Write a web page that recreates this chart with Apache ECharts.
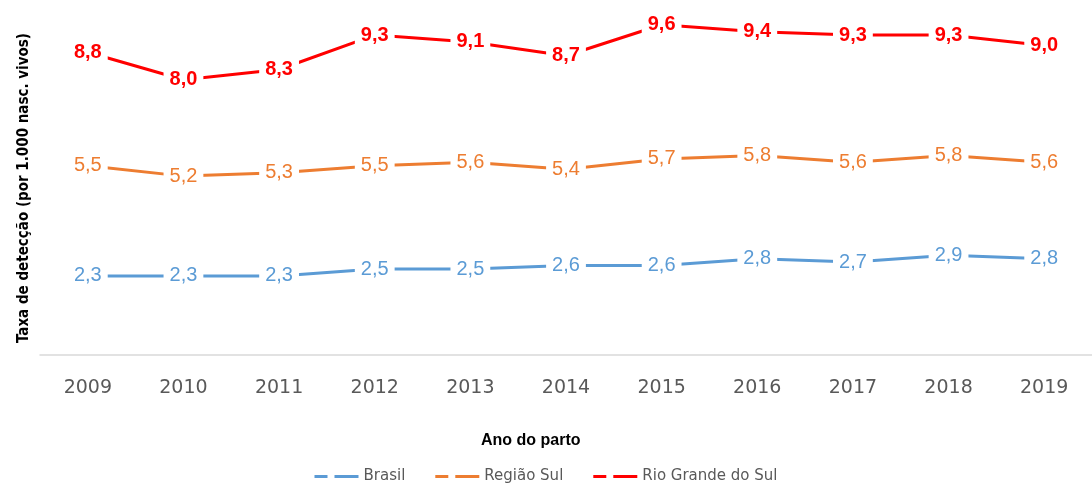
<!DOCTYPE html>
<html>
<head>
<meta charset="utf-8">
<script src="https://cdn.jsdelivr.net/npm/echarts@6/dist/echarts.min.js"></script>
<style>
  html, body { margin: 0; padding: 0; background: #fff; }
  #chart { width: 1092px; height: 483px; }
</style>
</head>
<body>
<div id="chart"></div>
<script>
// anos e taxas por 1.000 nascidos vivos
var anos = ['2009', '2010', '2011', '2012', '2013', '2014', '2015', '2016', '2017', '2018', '2019'];
var brasil = [2.3, 2.3, 2.3, 2.5, 2.5, 2.6, 2.6, 2.8, 2.7, 2.9, 2.8];
var regiaoSul = [5.5, 5.2, 5.3, 5.5, 5.6, 5.4, 5.7, 5.8, 5.6, 5.8, 5.6];
var rioGrande = [8.8, 8.0, 8.3, 9.3, 9.1, 8.7, 9.6, 9.4, 9.3, 9.3, 9.0];

var dashIcon = 'path://M0,0h13v3h-13z M20,0h24v3h-24z';

function serie(nome, dados, cor, peso) {
	return {
		name: nome,
		type: 'line',
		data: dados,
		symbol: 'circle',
		symbolSize: 1,
		color: cor,
		lineStyle: { width: 3, color: cor },
		itemStyle: { color: cor },
		label: {
			show: true,
			position: 'inside',
			color: cor,
			fontFamily: 'Liberation Sans',
			fontSize: 20,
			fontWeight: peso,
			backgroundColor: '#fff',
			padding: [1, 6],
			formatter: function (p) { return p.value.toFixed(1).replace('.', ','); }
		},
		emphasis: { disabled: true },
		animation: false
	};
}

var chart = echarts.init(document.getElementById('chart'));
var option = {
	backgroundColor: '#fff',
	title: {
		text: 'Ano do parto',
		left: 476,
		top: 428,
		textStyle: { fontFamily: 'Liberation Sans', fontSize: 16, fontWeight: 'bold', color: '#000' }
	},
	legend: {
		top: 464,
		left: 'center',
		itemWidth: 44,
		itemHeight: 3,
		itemGap: 30,
		textStyle: { fontFamily: 'DejaVu Sans', fontSize: 15, color: '#595959' },
		data: [
			{ name: 'Brasil', icon: dashIcon },
			{ name: 'Região Sul', icon: dashIcon },
			{ name: 'Rio Grande do Sul', icon: dashIcon }
		]
	},
	grid: { left: 40, top: 11, width: 1059, height: 344 },
	xAxis: {
		type: 'category',
		data: anos,
		boundaryGap: true,
		axisLine: { lineStyle: { color: '#d9d9d9', width: 1.5 } },
		axisTick: { show: false },
		axisLabel: { fontFamily: 'DejaVu Sans', fontSize: 19, color: '#595959', margin: 24 }
	},
	yAxis: {
		type: 'value',
		min: 0,
		max: 10,
		axisLine: { show: false },
		axisTick: { show: false },
		axisLabel: { show: false },
		splitLine: { show: false },
		name: 'Taxa de detecção (por 1.000 nasc. vivos)',
		nameLocation: 'middle',
		nameGap: 8,
		nameTextStyle: {
			fontFamily: 'DejaVu Sans Condensed, Liberation Sans',
			fontSize: 15,
			fontWeight: 'bold',
			color: '#000',
			padding: [0, 10, 0, 0]
		}
	},
	series: [
		serie('Brasil', brasil, '#5b9bd5', 'normal'),
		serie('Região Sul', regiaoSul, '#ed7d31', 'normal'),
		serie('Rio Grande do Sul', rioGrande, '#ff0000', 'bold')
	]
};
chart.setOption(option);
</script>
</body>
</html>
